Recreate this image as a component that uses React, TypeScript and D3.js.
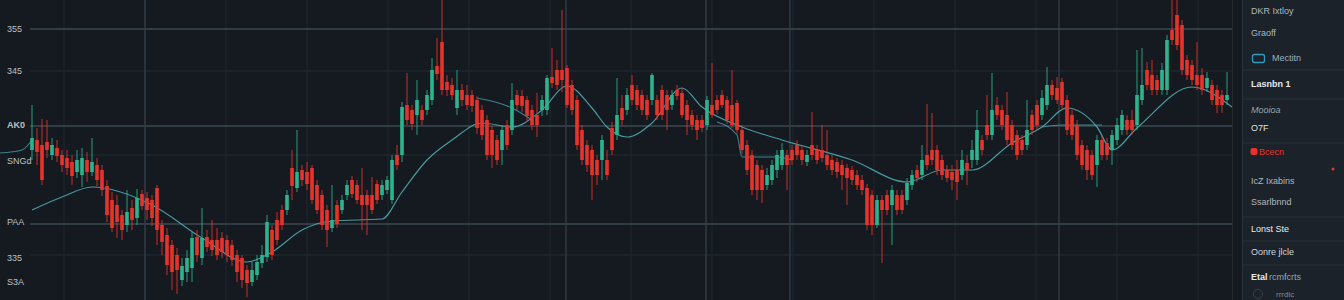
import React from 'react';
import * as d3 from 'd3';

const W = 1344;
const H = 300;

// ---- candle data (price units) ----
const opens = [
  345.0,346.0,345.5,345.8,344.5,345.2,344.5,344.2,343.8,342.8,
  342.5,344.0,342.8,343.5,343.0,341.4,340.0,339.5,338.5,337.5,
  339.2,338.2,340.6,340.2,340.0,341.2,337.5,336.5,335.5,334.5,
  332.0,332.8,333.2,336.3,
  334.2,336.3,336.0,336.0,336.2,336.0,335.5,334.5,334.2,333.0,
  331.8,332.5,333.7,334.3,337.0,338.0,339.0,339.0,343.2,341.2,
  343.0,342.8,343.2,341.5,340.5,339.0,337.2,339.5,339.0,340.5,
  342.0,341.5,340.5,340.5,340.5,341.6,340.5,341.0,340.0,344.5,
  344.5,349.5,349.0,348.5,349.0,349.0,350.0,353.4,355.8,351.8,
  351.5,349.2,351.0,350.5,350.5,350.0,349.0,348.0,347.0,346.0,
  345.0,347.5,347.0,350.5,350.4,350.0,349.0,348.5,349.0,349.0,
  352.3,353.0,353.0,353.2,351.5,350.0,347.0,345.5,345.0,344.0,
  344.0,344.0,347.2,346.5,349.2,349.0,351.5,351.0,350.5,350.0,
  350.0,350.0,351.0,350.5,349.5,351.0,350.7,349.5,348.5,348.0,
  348.0,347.5,349.5,350.0,350.5,350.0,349.5,349.7,347.0,345.5,
  344.5,343.5,343.0,341.5,342.0,343.0,343.5,344.5,345.0,345.5,
  345.0,343.8,345.5,345.0,345.0,344.5,344.0,343.8,343.5,343.2,
  343.0,342.5,342.0,341.2,340.5,337.5,340.0,340.5,339.5,340.5,
  340.5,340.0,341.5,343.0,342.5,344.5,345.0,345.0,344.0,343.0,
  342.8,343.0,342.5,343.7,344.0,344.0,346.0,347.5,346.5,349.5,
  349.0,348.5,347.5,346.5,346.0,345.5,348.5,349.5,348.5,349.5,
  351.5,351.2,351.8,350.0,348.5,347.5,345.5,345.0,344.5,343.5,
  346.0,345.7,345.0,346.0,347.0,348.0,348.0,347.5,350.0,353.0,
  352.5,352.0,351.0,351.0,357.0,358.5,357.5,354.0,353.5,352.5,
  352.5,351.2,351.5,351.0,350.5,350.0,
];
const closes = [
  346.2,344.8,342.0,345.0,345.5,344.4,343.5,343.2,342.4,344.0,
  344.2,342.8,343.8,342.0,341.0,338.5,337.2,337.8,337.0,338.8,
  338.0,340.2,339.4,339.0,338.2,337.0,335.8,333.5,332.8,333.0,
  333.4,334.2,336.2,334.5,
  336.2,335.3,335.0,334.5,334.8,334.5,334.0,332.8,332.0,331.7,
  333.0,333.8,334.5,337.8,334.5,336.0,337.5,340.5,341.4,342.8,
  342.0,341.6,340.0,339.0,337.5,337.0,338.0,337.6,340.0,341.5,
  340.6,340.0,339.5,339.5,339.0,340.0,341.5,342.0,344.0,343.5,
  349.3,348.0,347.6,350.0,348.0,350.5,353.0,352.6,351.0,351.0,
  350.5,351.0,350.0,349.5,349.4,347.2,346.5,344.5,344.5,344.0,
  347.0,345.5,350.0,349.5,349.4,348.4,347.5,347.5,350.0,352.2,
  351.7,351.5,352.0,349.5,349.0,345.5,344.0,343.5,342.5,342.5,
  346.0,342.5,345.0,348.5,348.0,350.5,350.0,349.5,349.0,348.5,
  352.5,348.5,348.5,349.0,350.5,350.4,348.5,348.0,347.5,347.0,
  347.2,350.0,348.5,349.0,349.5,348.0,347.5,347.0,345.0,343.0,
  341.0,341.0,341.0,342.5,343.5,344.5,345.0,343.5,344.0,344.5,
  344.0,344.5,344.5,344.0,344.2,343.5,343.0,342.8,342.5,342.2,
  342.0,341.5,341.0,337.5,337.5,340.0,339.0,339.0,341.0,339.0,
  339.0,341.7,342.5,342.2,344.0,343.5,344.0,343.0,342.5,342.2,
  342.0,341.8,344.0,343.0,345.0,347.0,345.0,346.5,349.0,348.5,
  347.5,346.0,345.5,344.5,345.0,347.0,347.0,347.5,350.2,351.5,
  350.5,350.0,349.5,347.0,346.5,344.5,343.5,343.0,342.5,346.0,
  344.5,344.5,346.5,347.5,348.5,347.0,347.0,350.5,351.5,351.5,
  351.0,351.0,353.0,356.0,356.0,355.5,353.0,352.5,352.0,351.5,
  351.0,352.2,350.0,349.5,349.5,350.5,
];
const highs = [
  349.5,347.2,348.1,348.0,346.2,346.0,345.0,345.0,344.5,345.0,
  345.2,344.8,346.2,344.2,343.5,342.0,340.8,340.5,339.0,341.0,
  340.0,341.1,341.0,340.8,340.5,341.5,338.0,337.2,336.0,335.2,
  334.2,335.0,336.8,337.0,
  339.2,337.0,338.0,337.2,336.8,336.5,336.0,335.0,334.5,333.5,
  333.8,334.5,335.5,338.5,337.5,338.8,339.5,341.0,345.0,347.0,
  343.5,343.8,343.5,342.0,341.0,339.5,341.5,340.0,340.5,342.0,
  342.4,342.0,343.2,341.0,342.3,342.0,342.0,342.4,344.5,345.5,
  349.8,352.7,349.5,352.0,349.5,351.0,354.2,356.2,360.0,352.5,
  352.2,353.0,351.6,351.5,351.0,350.4,349.5,348.5,347.4,346.5,
  347.5,348.0,351.7,351.0,351.0,350.4,349.5,350.7,350.5,352.5,
  355.2,354.0,359.0,353.5,352.0,350.5,347.5,346.0,345.5,344.5,
  346.5,345.0,347.8,352.2,350.5,351.2,352.5,351.5,351.0,350.5,
  352.7,350.5,351.5,351.0,351.0,351.5,351.2,350.0,349.0,348.5,
  348.5,350.4,353.7,350.5,351.0,350.4,353.0,350.0,347.5,346.0,
  345.0,344.0,343.5,343.2,344.0,345.0,345.7,345.0,345.5,346.0,
  345.4,345.0,348.8,345.5,347.5,347.0,344.5,344.2,344.0,343.6,
  343.4,343.0,342.5,341.6,341.0,340.5,340.5,341.0,341.5,341.0,
  341.0,342.2,343.0,343.5,345.5,349.6,348.7,345.5,344.5,343.5,
  343.5,344.0,345.0,344.5,346.0,349.0,346.5,350.5,352.7,350.3,
  349.5,350.8,348.0,347.0,346.5,350.0,349.0,350.0,351.0,353.3,
  352.0,352.3,352.2,350.5,349.0,348.0,346.0,345.5,345.0,346.5,
  346.5,346.2,347.0,348.2,349.0,348.5,349.0,355.0,355.2,353.8,
  354.0,352.5,353.7,356.5,360.0,360.0,358.0,354.5,354.0,355.8,
  353.2,352.8,352.0,351.5,351.0,352.8,
];
const lows = [
  344.0,343.5,341.5,344.2,344.0,343.8,342.8,342.5,341.5,342.2,
  341.3,341.8,342.4,341.4,340.4,337.8,336.8,336.2,336.0,336.8,
  337.0,337.5,339.0,338.0,337.4,335.5,334.5,332.5,331.0,330.6,
  331.4,331.8,331.8,333.8,
  333.5,334.8,334.4,334.0,334.2,333.8,333.4,331.8,331.2,330.3,
  331.4,332.0,333.2,333.8,334.0,335.5,337.0,338.5,340.0,340.8,
  341.4,341.0,339.6,338.6,337.0,335.3,336.8,337.2,338.6,340.0,
  340.2,339.6,337.0,336.5,338.6,339.6,340.0,340.6,339.6,343.0,
  343.8,347.5,347.0,346.5,347.5,348.5,349.5,352.0,350.5,350.4,
  350.0,348.5,349.4,349.0,348.8,346.6,346.0,344.0,343.2,343.5,
  343.5,345.0,346.5,349.0,348.8,347.8,347.0,346.3,348.4,348.5,
  351.2,351.0,350.8,349.2,348.5,345.0,343.5,342.8,340.0,341.5,
  342.0,342.0,344.5,346.0,347.5,348.5,349.5,349.0,348.5,348.0,
  349.5,348.0,348.0,347.0,349.0,350.0,348.2,346.5,347.0,346.0,
  346.8,347.0,348.2,348.6,349.2,347.6,347.2,346.6,344.6,342.5,
  340.5,340.0,339.7,341.0,341.5,342.2,343.0,341.0,343.5,344.0,
  343.5,343.4,344.0,343.6,343.8,343.0,342.5,342.2,341.0,339.5,
  341.5,341.0,340.5,337.0,336.5,337.2,333.7,338.5,335.5,338.5,
  338.6,339.5,341.0,341.8,342.0,343.0,343.5,342.5,342.0,341.8,
  341.0,340.0,342.0,341.5,343.2,343.5,344.5,346.0,346.0,348.0,
  347.0,345.5,345.0,344.0,344.5,345.0,346.5,347.0,348.0,349.0,
  350.0,349.6,349.0,346.5,346.0,344.0,343.0,342.0,342.0,341.3,
  344.0,344.0,343.5,345.5,346.5,346.5,346.5,347.0,349.5,351.0,
  350.5,350.5,350.5,350.5,355.5,355.0,352.5,352.0,351.5,351.0,
  350.5,350.8,349.5,348.7,348.7,349.5,
];

// ---- moving averages ----
const maSlowIdx = [0, 6, 12, 24, 34, 43, 48, 54, 60, 70, 74, 79, 84, 90, 96, 102, 107, 112, 115, 119, 124, 130, 134, 142, 150, 164, 175, 182, 188, 196, 202, 207, 213, 216, 221, 232, 240];
const maSlowVal = [339.0, 340.3, 341.3, 339.5, 336.2, 333.8, 334.8, 337.0, 337.9, 338.1, 340.8, 344.0, 346.0, 347.7, 347.3, 349.0, 351.4, 349.2, 347.3, 346.3, 347.7, 351.2, 349.3, 347.3, 346.0, 344.0, 341.8, 343.0, 343.0, 345.7, 347.3, 349.2, 347.3, 345.0, 347.2, 351.3, 349.3];
const maFastIdx = [-6.4, -2, 0, null, 89, 96, 100, null, 137, 141, 142, 149, 152, null, 202, 206, 214];
const maFastVal = [344.7, 345.0, 346.0, null, 350.2, 349.2, 348.0, null, 347.8, 346.5, 344.3, 344.3, 344.0, null, 347.3, 347.5, 347.5];

// ---- axis ----
const yTickValues = [357.1, 352.9, 347.5, 343.9, 337.8, 334.2, 331.8];
const yTickLabels = ['355', '345', 'AK0', 'SNGd', 'PAA', '335', 'S3A'];
const majorGridPrices = [357.1, 347.4, 337.6];
const minorGridPrices = [352.9, 344.5, 334.5];
const majorGridTimes = [22.6, 106.8, 134.8, 151.6, 205.4];

const BG = '#151a21';
const PANEL = '#1b2229';
const RED = '#e8332b';
const GREEN = '#2db48e';
const MA = '#4ea6ad';

export default function App() {
  const n = Math.min(opens.length, closes.length, highs.length, lows.length);
  const x = d3.scaleLinear().domain([0, 239]).range([32, 1227]);
  const y = d3.scaleLinear().domain([330, 360]).range([300, 0]);
  const bw = 3.6;

  const slowPts = maSlowIdx.map((d, i) => [d, maSlowVal[i]] as [number, number]);
  const fastPts = maFastIdx.map((d, i) => [d, maFastVal[i]] as [any, any]);
  const line = d3.line<[any, any]>()
    .defined(d => d[0] != null && d[1] != null)
    .x(d => x(d[0]))
    .y(d => y(d[1]))
    .curve(d3.curveMonotoneX);

  const minorTimes = d3.range(6.4, 240, 16.2);

  const candles = [];
  for (let i = 0; i < n; i++) {
    const o = opens[i], c = closes[i];
    const hi = Math.max(highs[i], o, c);
    const lo = Math.min(lows[i], o, c);
    const up = c >= o;
    const col = up ? GREEN : RED;
    const top = y(Math.max(o, c));
    const h = Math.max(1.2, Math.abs(y(o) - y(c)));
    candles.push(
      <g key={i}>
        <line x1={x(i)} x2={x(i)} y1={y(hi)} y2={y(lo)} stroke={col} strokeWidth={1} opacity={0.85} />
        <rect x={x(i) - bw / 2} y={top} width={bw} height={h} fill={col} />
      </g>
    );
  }

  const labelFont = '"Liberation Sans", "DejaVu Sans", sans-serif';
  const px = 1251;

  return (
    <svg width={W} height={H} style={{ position: 'absolute', left: 0, top: 0, display: 'block' }}
      xmlns="http://www.w3.org/2000/svg">
      <rect x={0} y={0} width={W} height={H} fill={BG} />

      {/* minor grid */}
      {minorGridPrices.map((p, i) => (
        <line key={'mh' + i} x1={30} x2={1232} y1={y(p)} y2={y(p)} stroke="#222a33" strokeWidth={1} />
      ))}
      {minorTimes.map((t, i) => (
        <line key={'mv' + i} x1={x(t)} x2={x(t)} y1={0} y2={H} stroke="#1f262e" strokeWidth={1} />
      ))}
      {/* major grid */}
      {majorGridPrices.map((p, i) => (
        <line key={'Mh' + i} x1={30} x2={1232} y1={y(p)} y2={y(p)} stroke="#3c4850" strokeWidth={1.6} />
      ))}
      {majorGridTimes.map((t, i) => (
        <line key={'Mv' + i} x1={x(t)} x2={x(t)} y1={0} y2={H} stroke="#333d45" strokeWidth={1.4} />
      ))}

      {/* MAs */}
      <path d={line(slowPts) || ''} fill="none" stroke={MA} strokeWidth={1.2} opacity={0.9} />
      <path d={line(fastPts) || ''} fill="none" stroke={MA} strokeWidth={1.1} opacity={0.75} />

      {candles}

      {/* y labels */}
      {yTickValues.map((v, i) => (
        <text key={'yl' + i} x={7} y={y(v)} dy="0.35em" fontSize={9} fill="#b9c0c6"
          fontFamily={labelFont} fontWeight={i === 2 ? 700 : 400}>{yTickLabels[i]}</text>
      ))}

      {/* right panel */}
      <line x1={1232.5} x2={1232.5} y1={0} y2={H} stroke="#232a31" strokeWidth={1} />
      <rect x={1242} y={0} width={W - 1242} height={H} fill={PANEL} />
      <line x1={1242.5} x2={1242.5} y1={0} y2={H} stroke="#2c353d" strokeWidth={1} />
      {[70, 99, 143, 217, 241, 265].map((yy, i) => (
        <line key={'sep' + i} x1={1243} x2={W} y1={yy} y2={yy} stroke="#29323a" strokeWidth={1} />
      ))}
      <g fontFamily={labelFont} fontSize={9}>
        <text x={px} y={11} dy="0.35em" fill="#aeb7bf">DKR Ixtloy</text>
        <text x={px} y={33} dy="0.35em" fill="#aeb7bf">Graoff</text>
        <rect x={1252.5} y={54.5} width={12} height={8} rx={2} fill="none" stroke="#2b9cc0" strokeWidth={1.3} />
        <text x={1272} y={58} dy="0.35em" fill="#9fb0b9">Mectitn</text>
        <text x={px} y={84} dy="0.35em" fill="#e6eaee" fontWeight={700}>Lasnbn 1</text>
        <text x={px} y={110} dy="0.35em" fill="#9aa6ae" fontStyle="italic">Mooioa</text>
        <text x={px} y={128} dy="0.35em" fill="#dfe4e8">O7F</text>
        <rect x={1250.5} y={148} width={7} height={7} rx={2} fill={RED} />
        <text x={1259} y={152} dy="0.35em" fill={RED}>Bcecn</text>
        <circle cx={1333} cy={169} r={1.5} fill={RED} />
        <text x={px} y={181} dy="0.35em" fill="#aeb7bf">IcZ Ixabins</text>
        <text x={px} y={202} dy="0.35em" fill="#aeb7bf">Ssarlbnnd</text>
        <text x={px} y={229} dy="0.35em" fill="#e6eaee">Lonst Ste</text>
        <text x={px} y={252} dy="0.35em" fill="#cfd5da">Oonre jlcle</text>
        <text x={px} y={277} dy="0.35em" fill="#e6eaee" fontWeight={700}>Etal</text>
        <text x={1269} y={277} dy="0.35em" fill="#9aa6ae">rcmfcrts</text>
        <circle cx={1258} cy={294} r={4.5} fill="none" stroke="#3a444c" strokeWidth={1} />
        <text x={1276} y={294} dy="0.35em" fontSize={8} fill="#7f8b93">rrrdic</text>
      </g>
    </svg>
  );
}
